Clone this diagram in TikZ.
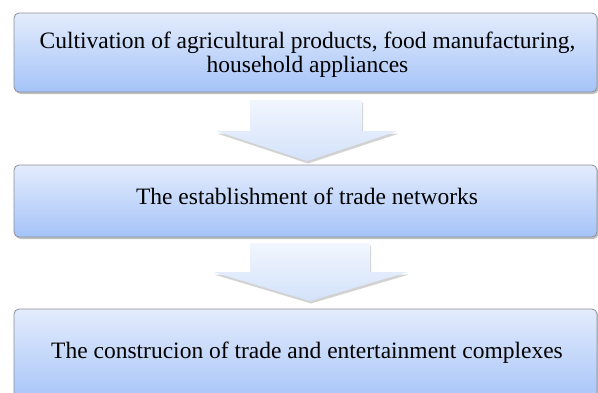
\documentclass[tikz,border=0pt]{standalone}
\usepackage{fontspec}
\setmainfont{Liberation Serif}
\usetikzlibrary{shadows,calc}
\definecolor{boxtop}{HTML}{E3ECFC}
\definecolor{boxbot}{HTML}{A5C3F8}
\definecolor{boxline}{HTML}{8A8F99}
\definecolor{arrtop}{HTML}{F2F6FE}
\definecolor{arrbot}{HTML}{D3E2FA}
\tikzset{
  stagebox/.style={draw=boxline, line width=0.8pt, rounded corners=5pt,
    top color=boxtop, bottom color=boxbot,
    drop shadow={shadow xshift=1.5pt, shadow yshift=-2pt, opacity=0.35, fill=black!70}},
  bigarrow/.style={top color=arrtop, bottom color=arrbot,
    drop shadow={shadow xshift=1pt, shadow yshift=-2.5pt, opacity=0.25, fill=black!70}},
  stagetext/.style={font=\fontsize{23.5}{24.5}\selectfont, align=center, inner sep=0pt}
}
\begin{document}
\begin{tikzpicture}[x=1pt,y=1pt]
\useasboundingbox (0,0) rectangle (598,392);
\clip (0,0) rectangle (598,392);
% boxes
\path[stagebox] (14,379) rectangle (597,300);
\path[stagebox] (14,227) rectangle (597,155);
\path[stagebox] (14,83) rectangle (597,-12);
% arrows
\path[bigarrow] (250,292) -- (362,292) -- (362,261) -- (398,261) -- (307,231) -- (216,261) -- (250,261) -- cycle;
\path[bigarrow] (250,149) -- (370,149) -- (370,120) -- (408,120) -- (310,91) -- (213,120) -- (250,120) -- cycle;
% texts
\node[stagetext] (t1) at (307.5,337.5) {Cultivation of agricultural products, food manufacturing,\\household appliances};
\node[stagetext, anchor=base] (t2) at (307,188) {The establishment of trade networks};
\node[stagetext, anchor=base] (t3) at (307,34) {The construcion of trade and entertainment complexes};
\end{tikzpicture}
\end{document}
